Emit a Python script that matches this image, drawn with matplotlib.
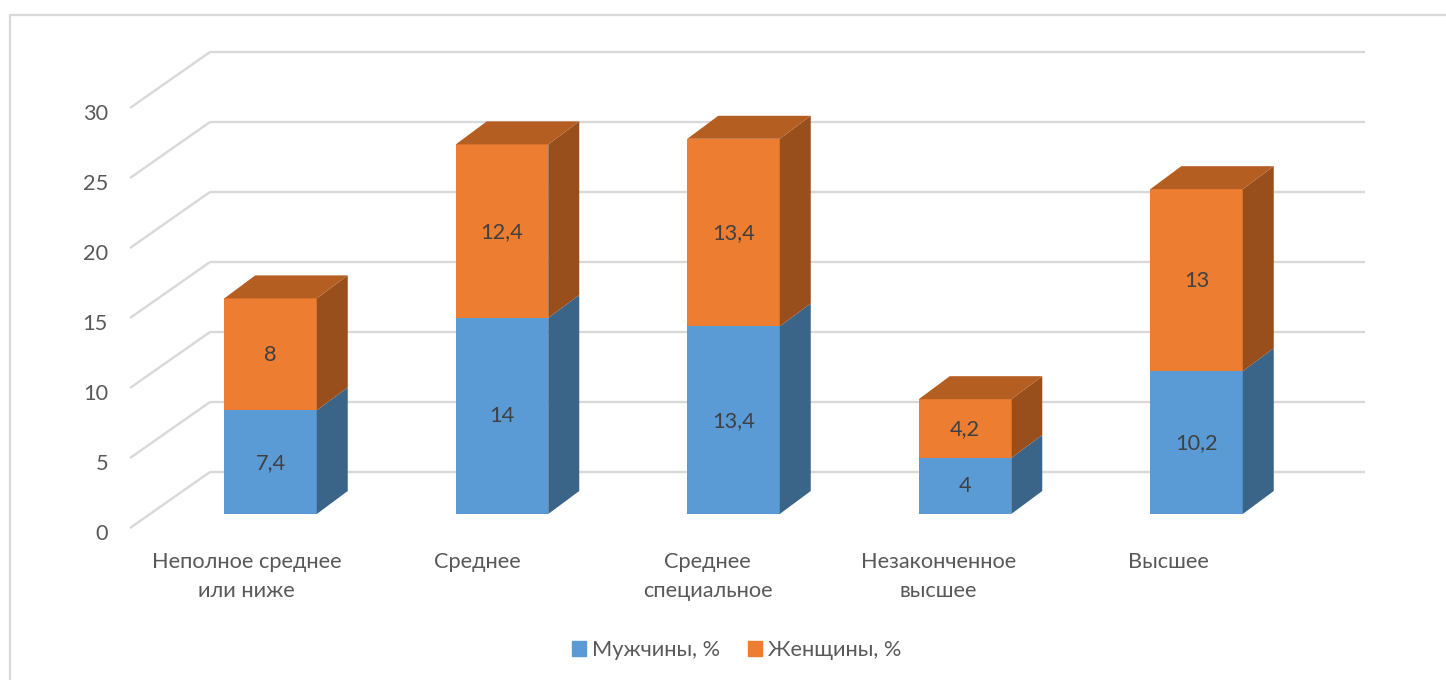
import matplotlib
matplotlib.use('Agg')
import matplotlib.pyplot as plt
from matplotlib.lines import Line2D
from matplotlib.patches import Patch

categories = ['Неполное среднее\nили ниже', 'Среднее', 'Среднее\nспециальное', 'Незаконченное\nвысшее', 'Высшее']
men = [7.4, 14, 13.4, 4, 10.2]
women = [8, 12.4, 13.4, 4.2, 13]
y_ticks = [0, 5, 10, 15, 20, 25, 30]

plt.rcParams['font.family'] = ['Lato', 'Open Sans', 'DejaVu Sans']

W, H = 1446, 680
PX_X = 231.5   # pixels per category
PX_Y = 14.0    # pixels per percent
X0, Y0 = 270.5, 514  # pixel of first bar centre / zero line
FS = 15.7

fig = plt.figure(figsize=(W / 100, H / 100), dpi=100)
ax = fig.add_axes([0, 0, 1, 1])
ax.set_xlim(-X0 / PX_X, (W - X0) / PX_X)
ax.set_ylim((Y0 - H) / PX_Y, Y0 / PX_Y)
ax.axis('off')


def dx(px):
    return px / PX_X


def dy(px):
    return px / PX_Y


grid_c = '#D9D9D9'
text_c = '#595959'

# outer frame of the chart area
fig.add_artist(Line2D([10 / W, 10 / W, 1], [0, 1 - 15 / H, 1 - 15 / H], color='#D9D9D9', lw=1.6))

# walls: diagonal on the left, horizontal on the back
wall_left = dx(210 - X0)
wall_right = dx(1365 - X0)
for v in y_ticks:
    ax.plot([dx(130 - X0), wall_left], [v - dy(14), v + dy(42)], color=grid_c, lw=1.7, zorder=1,
            solid_capstyle='butt')
    ax.plot([wall_left, wall_right], [v + dy(42), v + dy(42)], color=grid_c, lw=1.7, zorder=1,
            solid_capstyle='butt')
    ax.text(dx(108 - X0), v - dy(19.5), str(v), ha='right', va='center', fontsize=FS, color=text_c)

# bars with fake depth
bw = 92.5 / PX_X
ddx, ddy = dx(31), dy(23)
positions = list(range(len(categories)))
ax.bar(positions, men, bw, color='#5B9BD5', zorder=3)
ax.bar(positions, women, bw, bottom=men, color='#ED7D31', zorder=3)

for i in positions:
    r = i + bw / 2
    l = i - bw / 2
    m = men[i]
    t = men[i] + women[i]
    ax.fill([r, r + ddx, r + ddx, r], [0, ddy, m + ddy, m], color='#3A6488', lw=0, zorder=3)
    ax.fill([r, r + ddx, r + ddx, r], [m, m + ddy, t + ddy, t], color='#994F1C', lw=0, zorder=3)
    ax.fill([l, l + ddx, r + ddx, r], [t, t + ddy, t + ddy, t], color='#B55E22', lw=0, zorder=3)

    ax.text(i, m / 2 - dy(0.5), str(m).replace('.', ','), ha='center', va='center', fontsize=FS,
            color='#404040', zorder=4)
    ax.text(i, m + women[i] / 2 - dy(0.5), str(women[i]).replace('.', ','), ha='center', va='center',
            fontsize=FS, color='#404040', zorder=4)

    # category labels sit a bit left of the bars and drift slightly
    ax.text(dx(246.5 - X0 + i * 230.6), dy(-38), categories[i], ha='center', va='top', fontsize=FS,
            color=text_c, linespacing=1.55)

handles = [Patch(color='#5B9BD5', label='Мужчины, %'), Patch(color='#ED7D31', label='Женщины, %')]
fig.legend(handles=handles, loc='center', bbox_to_anchor=(736.5 / W, 1 - 650 / H), ncol=2, frameon=False,
           fontsize=FS, handlelength=0.64, handleheight=0.64, handletextpad=0.28, columnspacing=1.28,
           labelcolor=text_c)

fig.savefig('out.png', dpi=100)
